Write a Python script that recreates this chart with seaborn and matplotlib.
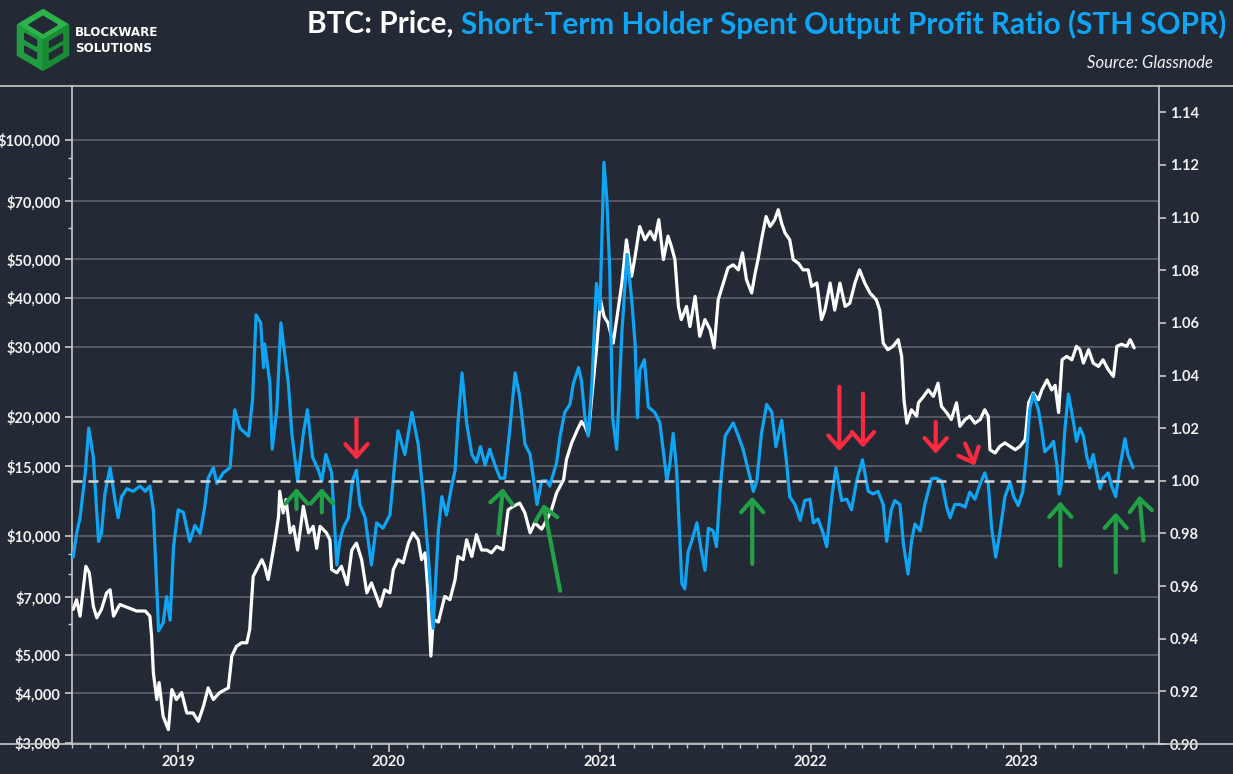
import pandas as pd
import matplotlib
matplotlib.use('Agg')
import matplotlib.pyplot as plt
import matplotlib.ticker as mticker
import matplotlib.dates as mdates
from matplotlib import font_manager
from matplotlib.patches import Polygon
from matplotlib.lines import Line2D
import seaborn as sns

# ---- data (days counted from 2018-07-01) ----
start = pd.Timestamp('2018-07-01')

price_day = [2, 8, 14, 20, 24, 30, 37, 43, 51, 60, 66, 72, 83, 98, 112, 127, 135, 138, 141, 147,
             151, 158, 167, 173, 181, 190, 199, 210, 219, 228, 236, 245, 256, 271, 277, 285, 294, 303, 308, 314,
             320, 329, 334, 340, 346, 352, 358, 360, 366, 371, 378, 384, 391, 401, 410, 418, 424, 430, 441, 447,
             450, 459, 467, 477, 485, 493, 502, 511, 519, 534, 542, 551, 557, 565, 574, 583, 591, 600, 606, 612,
             617, 622, 626, 635, 646, 655, 664, 669, 678, 684, 693, 701, 710, 719, 727, 736, 747, 756, 765, 776,
             785, 794, 802, 814, 823, 831, 840, 852, 857, 866, 876, 883, 889, 895, 901, 909, 916, 922, 929, 938,
             944, 953, 961, 970, 976, 984, 993, 1002, 1010, 1017, 1025, 1033, 1039, 1045, 1051, 1056, 1065, 1071, 1080, 1088,
             1097, 1106, 1113, 1120, 1129, 1137, 1146, 1155, 1162, 1169, 1178, 1184, 1189, 1195, 1203, 1210, 1218, 1224, 1230, 1236,
             1244, 1250, 1259, 1267, 1276, 1282, 1291, 1299, 1305, 1314, 1322, 1331, 1340, 1348, 1357, 1365, 1374, 1383, 1394, 1400,
             1406, 1414, 1423, 1432, 1438, 1442, 1447, 1455, 1464, 1467, 1476, 1484, 1493, 1501, 1507, 1516, 1524, 1533, 1539, 1548,
             1556, 1565, 1574, 1582, 1588, 1591, 1600, 1608, 1617, 1626, 1635, 1643, 1652, 1658, 1666, 1675, 1681, 1690, 1698, 1704,
             1710, 1716, 1724, 1733, 1741, 1747, 1753, 1762, 1770, 1779, 1787, 1796, 1805, 1811, 1819, 1828, 1834, 1841]
price_usd = [6520, 6900, 6270, 7460, 8380, 8070, 6640, 6210, 6520, 7180, 7310, 6270, 6710, 6580, 6460, 6460, 6270, 5570, 4510, 3860,
             4260, 3500, 3240, 4090, 3860, 4020, 3570, 3570, 3400, 3720, 4130, 3860, 4020, 4130, 4970, 5260, 5370, 5370, 5800, 7900,
             8220, 8710, 8380, 7760, 8710, 9780, 11200, 12970, 11430, 12360, 10180, 10570, 9210, 11880, 10180, 10570, 9300, 10570, 10180, 9780,
             8220, 8070, 8380, 7530, 9210, 9590, 8710, 7180, 7610, 6640, 7310, 7180, 8220, 8710, 8550, 9590, 10180, 9780, 8710, 9060,
             7180, 4970, 6150, 6060, 7030, 6900, 7760, 8870, 8710, 9780, 8870, 10070, 9210, 9210, 9060, 9400, 9230, 11640, 11880, 12100,
             11430, 10180, 10790, 10400, 11000, 11640, 12850, 13870, 15590, 17180, 18550, 19460, 18920, 18030, 22530, 29540, 39500, 35880, 34530, 30700,
             35200, 43540, 55990, 45300, 50850, 60500, 55990, 58800, 55990, 62950, 49900, 57200, 53800, 49900, 38000, 35200, 38000, 33800, 40300, 31920,
             35200, 33200, 29860, 39500, 43540, 47550, 48400, 47000, 51900, 44400, 41100, 46100, 49900, 55990, 64100, 60500, 62950, 66700, 61650, 58200,
             55990, 49900, 48850, 47000, 47000, 42700, 43540, 35200, 37200, 43540, 37200, 43540, 38000, 38700, 43540, 47000, 43540, 41100, 39500, 37200,
             30700, 29540, 30130, 31330, 28420, 22080, 19270, 20830, 20060, 21690, 22520, 23380, 22520, 24320, 21240, 20490, 19680, 21690, 18920, 19680,
             20060, 19270, 19680, 20830, 20060, 16510, 16200, 16830, 17180, 16830, 16510, 16830, 17500, 21690, 22960, 22080, 23380, 24770, 23380, 24000,
             20490, 27860, 28420, 27860, 30130, 29540, 27330, 29540, 27330, 26800, 27860, 26300, 25290, 30130, 30500, 30130, 31330, 29860]

sopr_day = [2, 8, 14, 23, 29, 37, 46, 51, 57, 66, 75, 80, 86, 95, 106, 118, 127, 135, 141, 148,
            150, 158, 164, 170, 176, 184, 193, 204, 213, 222, 230, 236, 245, 251, 262, 274, 282, 291, 306, 313,
            319, 327, 332, 334, 343, 347, 355, 362, 375, 381, 391, 401, 408, 417, 427, 433, 440, 450, 459, 464,
            470, 479, 486, 493, 499, 508, 519, 528, 539, 551, 560, 565, 577, 589, 600, 609, 617, 626, 635, 641,
            649, 658, 664, 669, 676, 684, 693, 701, 708, 716, 724, 733, 742, 750, 759, 768, 776, 785, 794, 806,
            814, 823, 828, 840, 846, 854, 863, 869, 878, 883, 889, 895, 901, 909, 915, 922, 927, 932, 937, 944,
            953, 962, 970, 976, 980, 984, 992, 999, 1010, 1019, 1031, 1036, 1042, 1048, 1057, 1062, 1068, 1074, 1083, 1091,
            1097, 1103, 1111, 1117, 1123, 1132, 1146, 1155, 1163, 1172, 1181, 1187, 1195, 1204, 1213, 1220, 1230, 1238, 1244, 1253,
            1262, 1270, 1279, 1285, 1293, 1302, 1308, 1317, 1324, 1334, 1343, 1351, 1360, 1370, 1380, 1389, 1397, 1406, 1412, 1420,
            1426, 1435, 1441, 1449, 1455, 1461, 1470, 1478, 1484, 1490, 1498, 1507, 1516, 1522, 1530, 1539, 1548, 1556, 1565, 1574,
            1582, 1588, 1594, 1601, 1608, 1617, 1626, 1632, 1640, 1648, 1654, 1660, 1666, 1675, 1681, 1686, 1695, 1701, 1707, 1711,
            1715, 1721, 1727, 1736, 1741, 1747, 1753, 1759, 1764, 1770, 1776, 1782, 1787, 1796, 1802, 1809, 1816, 1825, 1830, 1839]
sopr_value = [0.971, 0.980, 0.986, 1.003, 1.020, 1.009, 0.977, 0.980, 0.995, 1.005, 0.992, 0.986, 0.994, 0.997, 0.996, 0.998, 0.996, 0.998, 0.989, 0.954,
              0.943, 0.946, 0.956, 0.947, 0.975, 0.989, 0.988, 0.977, 0.983, 0.980, 0.990, 1.001, 1.005, 0.999, 1.003, 1.005, 1.027, 1.020, 1.017, 1.031,
              1.063, 1.060, 1.043, 1.052, 1.037, 1.012, 1.027, 1.060, 1.037, 1.018, 1.000, 1.018, 1.027, 1.009, 1.004, 1.000, 1.010, 1.003, 0.968, 0.977,
              0.982, 0.986, 1.000, 1.004, 0.991, 0.986, 0.968, 0.984, 0.982, 0.987, 1.008, 1.019, 1.010, 1.026, 1.014, 0.994, 0.973, 0.944, 0.981, 0.994,
              0.987, 0.998, 1.004, 1.022, 1.041, 1.022, 1.010, 1.007, 1.013, 1.006, 1.012, 1.006, 1.001, 1.001, 1.020, 1.041, 1.032, 1.014, 1.010, 0.991,
              1.000, 1.000, 0.998, 1.007, 1.017, 1.026, 1.029, 1.037, 1.043, 1.038, 1.024, 1.017, 1.037, 1.075, 1.065, 1.121, 1.107, 1.080, 1.024, 1.012,
              1.056, 1.086, 1.069, 1.052, 1.024, 1.042, 1.046, 1.028, 1.026, 1.022, 1.000, 1.006, 1.018, 1.004, 0.961, 0.959, 0.973, 0.977, 0.984, 0.973,
              0.966, 0.982, 0.981, 0.975, 0.996, 1.017, 1.022, 1.017, 1.012, 1.004, 0.996, 1.000, 1.018, 1.029, 1.026, 1.013, 1.023, 1.008, 0.994, 0.991,
              0.985, 0.9925, 0.993, 0.984, 0.9855, 0.980, 0.975, 0.994, 1.005, 0.9925, 0.993, 0.989, 1.000, 1.008, 0.996, 0.995, 0.996, 0.991, 0.977, 0.989,
              0.9925, 0.991, 0.976, 0.9646, 0.977, 0.9836, 0.981, 0.991, 0.996, 1.0008, 1.001, 1.000, 0.990, 0.986, 0.991, 0.991, 0.990, 0.9957, 0.993, 0.9989,
              1.003, 0.9989, 0.982, 0.971, 0.980, 0.994, 0.9995, 0.994, 0.9906, 0.996, 1.009, 1.027, 1.033, 1.027, 1.019, 1.011, 1.013, 1.015, 1.006, 0.995,
              0.999, 1.020, 1.033, 1.022, 1.015, 1.020, 1.017, 1.009, 1.005, 1.010, 1.003, 0.997, 1.001, 1.003, 0.998, 0.994, 1.005, 1.016, 1.010, 1.005]

# arrows: (tail day, tail sopr, head day, head sopr)
green_arrows = [(389, 0.9893, 389, 0.9973), (433, 0.9880, 433, 0.9973), (739, 0.9798, 747, 0.9973),
                (846, 0.9582, 817, 0.9912), (1179, 0.9684, 1179, 0.9940), (1713, 0.9677, 1713, 0.9922),
                (1809, 0.9652, 1809, 0.9880), (1857, 0.9773, 1850, 0.9944)]
red_arrows = [(493, 1.0236, 493, 1.0080), (1330, 1.0357, 1330, 1.0113), (1371, 1.0331, 1371, 1.0126),
              (1497, 1.0223, 1497, 1.0103), (1548, 1.0141, 1565, 1.0058)]

price_ticks = [3000, 4000, 5000, 7000, 10000, 15000, 20000, 30000, 40000, 50000, 70000, 100000]
price_minor = [6000, 8000, 9000, 60000, 80000, 90000]
sopr_ticks = [0.90, 0.92, 0.94, 0.96, 0.98, 1.00, 1.02, 1.04, 1.06, 1.08, 1.10, 1.12, 1.14]
year_ticks = ['2019', '2020', '2021', '2022', '2023']

# ---- styling ----
BG = '#232a35'
BLUE = '#0ea5f5'
GRID = '#5c616a'
SPINE = '#c9c9c9'
TXT = '#f2f2f2'
GREEN = '#22a045'
RED = '#fb2a40'

W, H = 1233, 774
sns.set_style('dark', {'axes.facecolor': BG, 'figure.facecolor': BG})
plt.rcParams['font.family'] = ['Lato', 'DejaVu Sans']

# an upright narrow bold face for the logo lettering, if one is installed
narrow_bold = [f.fname for f in font_manager.fontManager.ttflist
               if ('Narrow' in f.name or 'Condensed' in f.name or f.stretch in ('condensed', 'semi-condensed'))
               and f.weight in (600, 700, 800, 900, 'bold', 'semibold', 'heavy', 'black')
               and f.style == 'normal']
logo_prop = dict(family='DejaVu Sans', weight='bold')
if narrow_bold:
    logo_prop = dict(fontproperties=font_manager.FontProperties(fname=sorted(narrow_bold)[0]))

price_df = pd.DataFrame({'date': start + pd.to_timedelta(price_day, unit='D'), 'price': price_usd})
sopr_df = pd.DataFrame({'date': start + pd.to_timedelta(sopr_day, unit='D'), 'sopr': sopr_value})

fig = plt.figure(figsize=(W / 100, H / 100), dpi=100, facecolor=BG)
ax = fig.add_axes([72 / W, 1 - 744 / H, (1159 - 72) / W, (744 - 86) / H])
ax.set_facecolor(BG)

sns.lineplot(data=price_df, x='date', y='price', ax=ax, color='white', lw=2.3, zorder=3)
ax.set_yscale('log')
ax.set_ylim(2980, 137000)
ax.set_xlim(start, pd.Timestamp('2023-08-28'))
ax.yaxis.set_major_locator(mticker.FixedLocator(price_ticks))
ax.yaxis.set_major_formatter(mticker.FuncFormatter(lambda v, p: '${:,.0f}'.format(v)))
ax.yaxis.set_minor_locator(mticker.FixedLocator(price_minor))
ax.yaxis.set_minor_formatter(mticker.NullFormatter())
ax.grid(axis='y', which='major', color=GRID, lw=1.2)
ax.grid(axis='x', visible=False)
ax.set_xlabel('')
ax.set_ylabel('')

ax.set_xticks([pd.Timestamp(y + '-01-01') for y in year_ticks])
ax.set_xticklabels(year_ticks, fontweight='bold')
ax.xaxis.set_minor_locator(mdates.MonthLocator())

ax2 = ax.twinx()
sns.lineplot(data=sopr_df, x='date', y='sopr', ax=ax2, color=BLUE, lw=2.3, zorder=3)
ax2.set_ylim(0.90, 1.15)
ax2.set_yticks(sopr_ticks)
ax2.yaxis.set_major_formatter(mticker.FormatStrFormatter('%.2f'))
ax2.axhline(1.0, color='#d6d6d6', lw=1.8, dashes=(4, 2.4), zorder=4)
ax2.set_ylabel('')
ax2.set_xlabel('')
ax2.grid(False)

for tail_d, tail_v, head_d, head_v in green_arrows:
    ax2.annotate('', xy=(start + pd.Timedelta(days=head_d), head_v),
                 xytext=(start + pd.Timedelta(days=tail_d), tail_v),
                 arrowprops=dict(arrowstyle='->,head_length=0.45,head_width=0.4', color=GREEN,
                                 lw=3, shrinkA=0, shrinkB=0, mutation_scale=20), zorder=5)
for tail_d, tail_v, head_d, head_v in red_arrows:
    ax2.annotate('', xy=(start + pd.Timedelta(days=head_d), head_v),
                 xytext=(start + pd.Timedelta(days=tail_d), tail_v),
                 arrowprops=dict(arrowstyle='->,head_length=0.45,head_width=0.4', color=RED,
                                 lw=3, shrinkA=0, shrinkB=0, mutation_scale=20), zorder=5)

for a in (ax, ax2):
    for s in a.spines.values():
        s.set_visible(False)
ax.spines['left'].set_visible(True)
ax.spines['left'].set_color(SPINE)
ax.spines['left'].set_linewidth(1.2)
ax2.spines['right'].set_visible(True)
ax2.spines['right'].set_color(SPINE)
ax2.spines['right'].set_linewidth(1.2)

ax.tick_params(axis='y', which='major', length=5, width=1.2, color=SPINE, labelcolor=TXT, labelsize=10.5, pad=3, left=True)
ax.tick_params(axis='y', which='minor', length=3, width=1.0, color=SPINE, left=True)
ax.tick_params(axis='x', which='major', length=6, width=1.2, color=SPINE, labelcolor=TXT, labelsize=10.5, pad=2, bottom=True)
ax.tick_params(axis='x', which='minor', length=3, width=1.0, color=SPINE, bottom=True)
ax2.tick_params(axis='y', which='major', length=5, width=1.2, color=SPINE, labelcolor=TXT, labelsize=10.5, pad=3, right=True)
for lbl in ax.get_yticklabels() + ax2.get_yticklabels():
    lbl.set_fontweight('bold')

# full-width frame lines
fig.add_artist(Line2D([0, 1], [1 - 86 / H, 1 - 86 / H], transform=fig.transFigure, color=SPINE, lw=1.2))
fig.add_artist(Line2D([0, 1], [1 - 744 / H, 1 - 744 / H], transform=fig.transFigure, color=SPINE, lw=1.2))

# ---- title ----
fig.canvas.draw()
renderer = fig.canvas.get_renderer()
t_blue = fig.text(1226 / W, 1 - 24 / H, 'Short-Term Holder Spent Output Profit Ratio (STH SOPR)',
                  ha='right', va='center', color=BLUE, fontsize=22, fontweight='bold')
t_white = fig.text(0, 1 - 24 / H, 'BTC: Price,', ha='right', va='center', color='white',
                   fontsize=22, fontweight='bold')
wb = t_blue.get_window_extent(renderer).width
ww = t_white.get_window_extent(renderer).width
scale = (919 - 7) / (wb + ww)
t_blue.set_fontsize(22 * scale)
t_white.set_fontsize(22 * scale)
bb = t_blue.get_window_extent(renderer)
t_white.set_x((bb.x0 - 7) / W)

fig.text(1213 / W, 1 - 63 / H, 'Source: Glassnode', ha='right', va='center', color=TXT,
         fontsize=12, style='italic')

# ---- logo ----
lax = fig.add_axes([12 / W, 1 - 72 / H, 62 / W, 64 / H])
lax.set_xlim(-1.05, 1.05)
lax.set_ylim(-1.05, 1.05)
lax.axis('off')
c = 0.866
lax.add_patch(Polygon([(0, 0), (-c, 0.5), (0, 1), (c, 0.5)], color='#2eb34b'))
lax.add_patch(Polygon([(0, 0), (-c, 0.5), (-c, -0.5), (0, -1)], color='#1f9c3f'))
lax.add_patch(Polygon([(0, 0), (0, -1), (c, -0.5), (c, 0.5)], color='#188b35'))
lax.add_patch(Polygon([(0, 0.22), (-0.48, 0.5), (0, 0.78), (0.48, 0.5)], color=BG))
lax.add_patch(Polygon([(-0.62, 0.22), (-0.22, 0.0), (-0.22, -0.2), (-0.62, 0.02)], color=BG))
lax.add_patch(Polygon([(-0.62, -0.2), (-0.22, -0.42), (-0.22, -0.62), (-0.62, -0.4)], color=BG))
lax.add_patch(Polygon([(0.22, -0.05), (0.66, 0.2), (0.66, 0.0), (0.22, -0.25)], color=BG))
lax.add_patch(Polygon([(0.22, -0.45), (0.66, -0.2), (0.66, -0.4), (0.22, -0.65)], color=BG))

l1 = fig.text(75 / W, 1 - 32 / H, 'BLOCKWARE', ha='left', va='center', color='white', **logo_prop)
l2 = fig.text(75 / W, 1 - 48 / H, 'SOLUTIONS', ha='left', va='center', color='white', **logo_prop)
l1.set_fontsize(12)
l2.set_fontsize(12)
lw1 = l1.get_window_extent(renderer).width
fs = min(12 * 83 / lw1, 15)
l1.set_fontsize(fs)
l2.set_fontsize(fs)

fig.savefig('out.png', dpi=100, facecolor=BG)
